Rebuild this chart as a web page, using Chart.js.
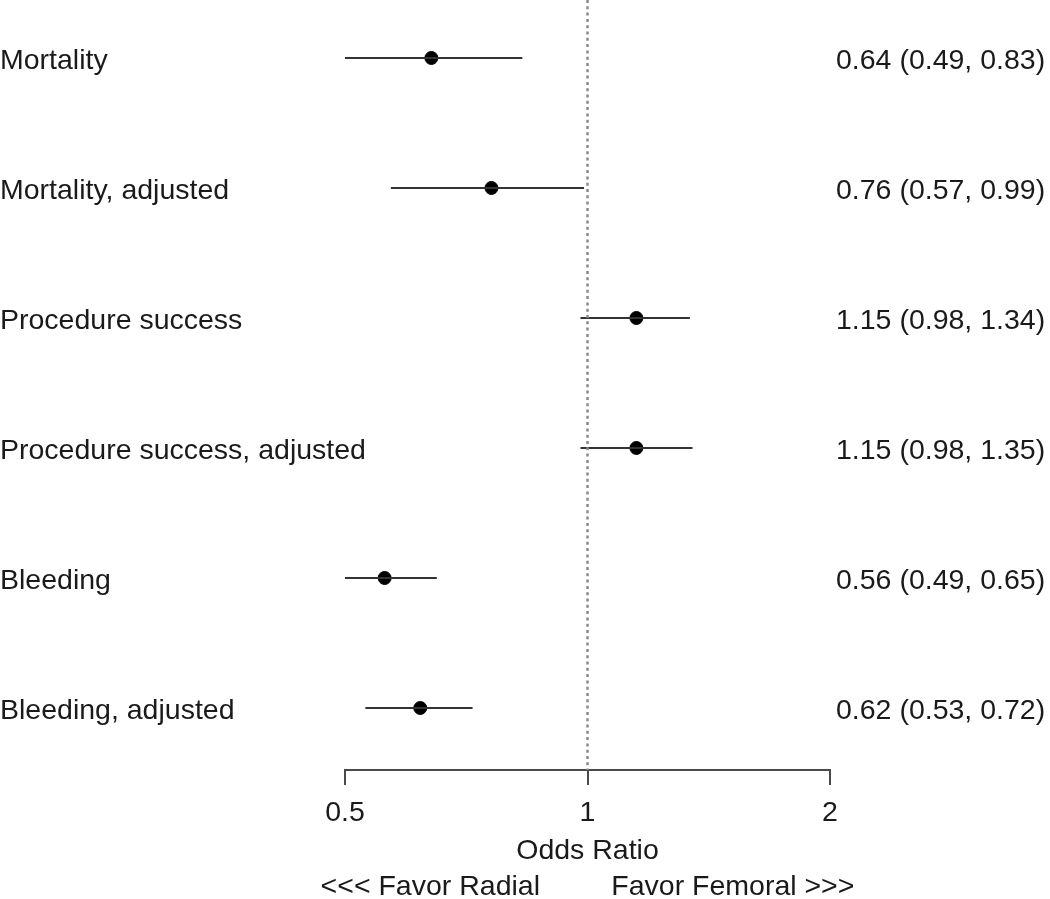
<!DOCTYPE html>
<html lang="en">
<head>
    <meta charset="UTF-8">
    <title>Odds Ratio forest plot</title>
    <style>
        body {
            margin: 0;
            background-color: #fff;
        }

        #wrap {
            width: 1050px;
            height: 899px;
            position: relative;
        }
    </style>
    <script src="https://cdn.jsdelivr.net/npm/chart.js"></script>
</head>
<body>
    <div id="wrap">
        <canvas id="forestChart"></canvas>
    </div>

    <script>
        // data
        const categories = ['Mortality', 'Mortality, adjusted', 'Procedure success',
            'Procedure success, adjusted', 'Bleeding', 'Bleeding, adjusted'];
        const oddsRatio = [0.64, 0.76, 1.15, 1.15, 0.56, 0.62];
        const lowerCI = [0.49, 0.57, 0.98, 0.98, 0.49, 0.53];
        const upperCI = [0.83, 0.99, 1.34, 1.35, 0.65, 0.72];
        const xTicks = [0.5, 1, 2];
        const xTitle = 'Odds Ratio';
        const directionText = '<<< Favor Radial         Favor Femoral >>>';

        const rows = categories.map((c, i) => i + 1);
        const yMin = 0.554;
        const yMax = 6.477;
        const refValue = 1;

        const textFont = { family: "'Liberation Sans', Arial, sans-serif", size: 28.5 };
        const textColor = '#1a1a1a';

        const fmt = v => v.toFixed(2);
        const rightLabels = rows.map((r, i) =>
            `${fmt(oddsRatio[i])} (${fmt(lowerCI[i])}, ${fmt(upperCI[i])})`);

        const datasets = [];

        // dotted line at OR = 1
        datasets.push({
            type: 'line',
            data: [{ x: refValue, y: yMin }, { x: refValue, y: yMax }],
            borderColor: '#8a8a8a',
            borderWidth: 2.5,
            borderDash: [3, 3.3],
            pointRadius: 0,
            yAxisID: 'y'
        });

        // confidence intervals
        rows.forEach((r, i) => {
            datasets.push({
                type: 'line',
                data: [{ x: lowerCI[i], y: r }, { x: upperCI[i], y: r }],
                borderColor: '#333',
                borderWidth: 2,
                pointRadius: 0,
                yAxisID: 'y'
            });
        });

        // point estimates
        datasets.push({
            type: 'scatter',
            data: rows.map((r, i) => ({ x: oddsRatio[i], y: r })),
            backgroundColor: '#000',
            borderColor: '#000',
            pointRadius: 6.5,
            yAxisID: 'y'
        });

        const rowTicks = scale => { scale.ticks = rows.map(v => ({ value: v })); };
        const noPad = scale => { scale.paddingTop = 0; scale.paddingBottom = 0; };

        new Chart(document.getElementById('forestChart'), {
            type: 'scatter',
            data: { datasets: datasets },
            options: {
                responsive: true,
                maintainAspectRatio: false,
                animation: false,
                layout: { padding: 0, autoPadding: false },
                plugins: {
                    legend: { display: false },
                    tooltip: { enabled: false }
                },
                scales: {
                    x: {
                        type: 'logarithmic',
                        position: 'bottom',
                        weight: 1,
                        min: 0.5,
                        max: 2,
                        afterBuildTicks: scale => { scale.ticks = xTicks.map(v => ({ value: v })); },
                        afterFit: scale => { scale.height = 92; },
                        border: { display: true, color: '#4a4a4a', width: 2 },
                        grid: { drawOnChartArea: false, drawTicks: true, tickLength: 15, color: '#4a4a4a', lineWidth: 2 },
                        ticks: {
                            font: textFont,
                            color: textColor,
                            padding: 11,
                            maxRotation: 0,
                            autoSkip: false,
                            callback: v => String(v)
                        },
                        title: {
                            display: true,
                            text: xTitle,
                            font: textFont,
                            color: textColor,
                            padding: { top: 0, bottom: -6 }
                        }
                    },
                    xDir: {
                        type: 'logarithmic',
                        position: 'bottom',
                        weight: 2,
                        min: 0.5,
                        max: 2,
                        afterBuildTicks: scale => { scale.ticks = [{ value: refValue }]; },
                        afterFit: scale => { scale.height = 37; },
                        border: { display: false },
                        grid: { display: false, drawTicks: false },
                        ticks: {
                            font: textFont,
                            color: textColor,
                            padding: 8,
                            maxRotation: 0,
                            autoSkip: false,
                            callback: () => directionText
                        }
                    },
                    y: {
                        type: 'linear',
                        position: 'left',
                        reverse: true,
                        min: yMin,
                        max: yMax,
                        afterBuildTicks: rowTicks,
                        afterFit: scale => { scale.width = 345; noPad(scale); },
                        border: { display: false },
                        grid: { display: false, drawTicks: false },
                        ticks: {
                            font: textFont,
                            color: textColor,
                            mirror: true,
                            crossAlign: 'near',
                            padding: -345,
                            autoSkip: false,
                            labelOffset: 3,
                            callback: v => categories[v - 1] ?? ''
                        }
                    },
                    y2: {
                        type: 'linear',
                        position: 'right',
                        reverse: true,
                        min: yMin,
                        max: yMax,
                        afterBuildTicks: rowTicks,
                        afterFit: scale => { scale.width = 220; noPad(scale); },
                        border: { display: false },
                        grid: { display: false, drawTicks: false },
                        ticks: {
                            font: textFont,
                            color: textColor,
                            crossAlign: 'near',
                            padding: 6,
                            autoSkip: false,
                            labelOffset: 3,
                            callback: v => rightLabels[v - 1] ?? ''
                        }
                    }
                }
            }
        });
    </script>
</body>
</html>
